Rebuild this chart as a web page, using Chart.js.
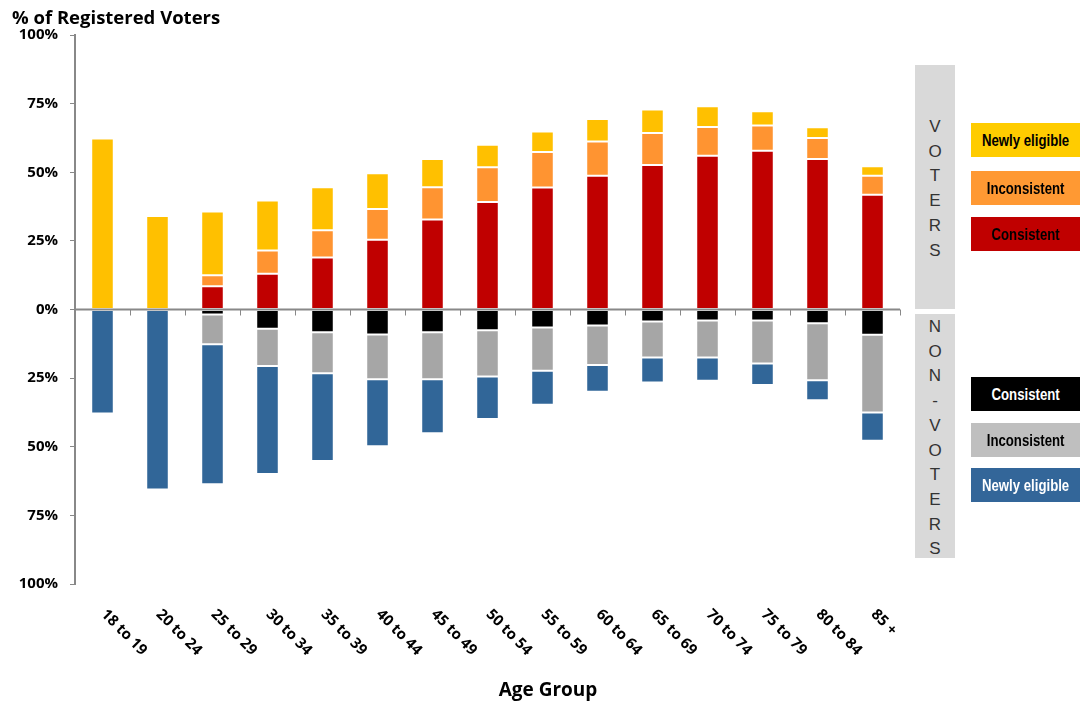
<!DOCTYPE html>
<html>
<head>
<meta charset="utf-8">
<script src="https://cdn.jsdelivr.net/npm/chart.js@4"></script>
<style>
  html, body { margin: 0; padding: 0; background: #fff; }
  #wrap { position: relative; width: 1080px; height: 704px; }
  canvas { position: absolute; left: 0; top: 0; }
  .group {
    position: absolute; left: 915px; width: 40px; background: #d9d9d9;
    font-family: "Liberation Sans", Arial, sans-serif; font-size: 17px; color: #333;
    text-align: center; box-sizing: border-box;
  }
  .group span { display: block; line-height: 24.7px; }
  .key {
    position: absolute; left: 971px; width: 109px; height: 34px;
    font-family: "Liberation Sans", Arial, sans-serif;
    font-weight: bold; font-size: 16.5px; line-height: 34px; text-align: center;
    overflow: hidden; white-space: nowrap;
  }
  .key span { display: inline-block; transform: scaleX(0.8); transform-origin: center; }
</style>
</head>
<body>
<div id="wrap">
  <canvas id="chart" width="1080" height="704"></canvas>

  <div class="group" style="top:65px;height:244px;padding-top:50px;">
    <span>V</span><span>O</span><span>T</span><span>E</span><span>R</span><span>S</span>
  </div>
  <div class="group" style="top:314px;height:244px;padding-top:1px;">
    <span>N</span><span>O</span><span>N</span><span>-</span><span>V</span><span>O</span><span>T</span><span>E</span><span>R</span><span>S</span>
  </div>

  <div class="key" style="top:123px;background:#ffcc00;color:#000;"><span>Newly eligible</span></div>
  <div class="key" style="top:171px;background:#ff9933;color:#000;"><span>Inconsistent</span></div>
  <div class="key" style="top:217px;background:#c00000;color:#000;"><span>Consistent</span></div>
  <div class="key" style="top:377px;background:#000000;color:#fff;"><span>Consistent</span></div>
  <div class="key" style="top:423px;background:#bfbfbf;color:#000;"><span>Inconsistent</span></div>
  <div class="key" style="top:468px;background:#336699;color:#fff;"><span>Newly eligible</span></div>
</div>

<script>
// age groups and shares of registered voters (%), non-voters as negatives
const ageGroups = ['18 to 19', '20 to 24', '25 to 29', '30 to 34', '35 to 39', '40 to 44', '45 to 49',
                   '50 to 54', '55 to 59', '60 to 64', '65 to 69', '70 to 74', '75 to 79', '80 to 84', '85 +'];

const voterConsistent   = [0, 0, 8.5, 13, 18.9, 25.4, 32.8, 39.2, 44.4, 48.7, 52.6, 56, 57.8, 54.8, 41.8];
const voterInconsistent = [0, 0, 4, 8.5, 10, 11.2, 11.7, 12.6, 13, 12.5, 11.7, 10.5, 9.2, 7.7, 6.9];
const voterNewly        = [62.3, 34.1, 23.2, 18.2, 15.6, 13, 10.3, 8.2, 7.4, 8.2, 8.6, 7.5, 5.2, 3.9, 3.5];

const nonConsistent   = [0, 0, -1.8, -7, -8.3, -9.1, -8.3, -7.6, -6.6, -5.8, -4.4, -4, -4, -5, -9.2];
const nonInconsistent = [0, 0, -10.9, -13.6, -14.9, -16.3, -17.1, -16.8, -15.7, -14.4, -13.1, -13.5, -15.7, -20.8, -28.3];
const nonNewly        = [-37.9, -65.6, -51, -39.3, -32, -24.4, -19.7, -15.5, -12.4, -9.8, -9.1, -8.5, -7.8, -7.3, -10.3];

const yTicks = [-100, -75, -50, -25, 0, 25, 50, 75, 100];

const axisGray = '#888888';
const fontFamily = '"Open Sans", Lato, sans-serif';

function series(data, color) {
    return {
        data: data,
        backgroundColor: color,
        borderColor: 'rgba(255,255,255,0.25)',
        borderWidth: 1,
        borderSkipped: false,
        stack: 'all',
        categoryPercentage: 1.0,
        barPercentage: 0.41
    };
}

// zero line, category ticks, rotated age labels and titles
const decorations = {
    id: 'decorations',
    afterDatasetsDraw(chart) {
        const ctx = chart.ctx;
        const x = chart.scales.x;
        const y = chart.scales.y;
        const area = chart.chartArea;
        const zero = y.getPixelForValue(0);

        ctx.save();
        ctx.strokeStyle = axisGray;
        ctx.lineWidth = 2;
        ctx.beginPath();
        ctx.moveTo(area.left, zero);
        ctx.lineTo(area.right, zero);
        ctx.stroke();

        ctx.lineWidth = 1;
        const step = x.getPixelForValue(1) - x.getPixelForValue(0);
        for (let i = 1; i <= ageGroups.length; i++) {
            const px = Math.round(x.getPixelForValue(i) - step / 2) + 0.5;
            ctx.beginPath();
            ctx.moveTo(px, zero);
            ctx.lineTo(px, zero + 6);
            ctx.stroke();
        }

        ctx.fillStyle = '#000';
        ctx.font = 'bold 15px ' + fontFamily;
        ctx.textAlign = 'left';
        ctx.textBaseline = 'middle';
        ageGroups.forEach((label, i) => {
            ctx.save();
            ctx.translate(x.getPixelForValue(i) + 1, 612);
            ctx.rotate(Math.PI / 4);
            ctx.fillText(label, 0, 0);
            ctx.restore();
        });

        ctx.textBaseline = 'alphabetic';
        ctx.font = 'bold 18.5px ' + fontFamily;
        ctx.textAlign = 'left';
        ctx.fillText('% of Registered Voters', 12, 24);

        ctx.font = 'bold 19px ' + fontFamily;
        ctx.textAlign = 'center';
        ctx.fillText('Age Group', 548, 696);
        ctx.restore();
    }
};

new Chart(document.getElementById('chart'), {
    type: 'bar',
    data: {
        labels: ageGroups,
        datasets: [
            series(voterConsistent, '#c00000'),
            series(voterInconsistent, '#ff9431'),
            series(voterNewly, '#ffc000'),
            series(nonConsistent, '#000000'),
            series(nonInconsistent, '#a6a6a6'),
            series(nonNewly, '#316698')
        ]
    },
    options: {
        responsive: false,
        animation: false,
        layout: {
            padding: { left: 0, right: 180, top: 35, bottom: 120 }
        },
        scales: {
            x: {
                stacked: true,
                display: false
            },
            y: {
                stacked: true,
                min: -100,
                max: 100,
                afterFit(scale) { scale.width = 75; },
                afterBuildTicks(scale) { scale.ticks = yTicks.map(v => ({ value: v })); },
                border: { display: true, color: axisGray, width: 2 },
                grid: {
                    drawOnChartArea: false,
                    drawTicks: true,
                    tickLength: 5,
                    color: axisGray
                },
                ticks: {
                    padding: 12,
                    color: '#000',
                    font: { family: fontFamily, size: 15, weight: 'bold' },
                    callback: v => Math.abs(v) + '%'
                }
            }
        },
        plugins: {
            legend: { display: false },
            tooltip: { enabled: false }
        }
    },
    plugins: [decorations]
});
</script>
</body>
</html>
